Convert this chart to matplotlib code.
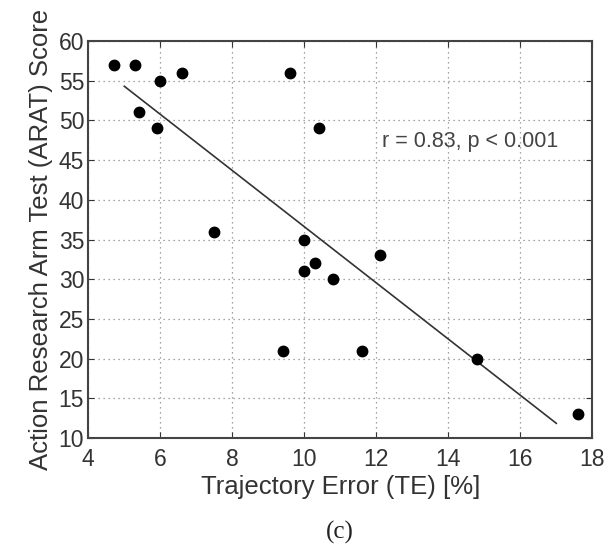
import matplotlib
matplotlib.use("Agg")
import matplotlib.pyplot as plt
import numpy as np

# Trajectory error (%) vs ARAT score per subject
te = [4.7, 5.3, 6.0, 6.6, 9.6, 5.4, 5.9, 10.4, 7.5, 10.0, 10.0, 10.3, 10.8, 9.4, 12.1, 11.6, 14.8, 17.6]
arat = [57, 57, 55, 56, 56, 51, 49, 49, 36, 35, 31, 32, 30, 21, 33, 21, 20, 13]

# Regression line endpoints
fit_x = [5.0, 17.0]
fit_y = [54.3, 11.85]

xticks = [4, 6, 8, 10, 12, 14, 16, 18]
yticks = [10, 15, 20, 25, 30, 35, 40, 45, 50, 55, 60]

plt.rcParams['font.family'] = ['Liberation Sans', 'DejaVu Sans']

fig = plt.figure(figsize=(6.12, 5.46), dpi=100)
ax = fig.add_axes([0.1443, 0.1978, 0.8235, 0.7271])

ax.plot(fit_x, fit_y, color='#333333', lw=1.2, zorder=2)
ax.plot(te, arat, 'o', color='black', ms=7.5, zorder=3)

ax.set_xlim(4, 18)
ax.set_ylim(10, 60)
ax.set_xticks(xticks)
ax.set_yticks(yticks)
ax.grid(True, linestyle=(0, (1, 3)), color='#888888', lw=0.9)
ax.tick_params(direction='in', top=True, right=True, length=4, width=0.8,
               labelsize=16.5, colors='#333333', labelcolor='#333333')
ax.tick_params(axis='x', pad=7)
ax.tick_params(axis='y', pad=3)
for s in ax.spines.values():
    s.set_color('#444444')
    s.set_linewidth(1.5)

ax.set_xlabel('Trajectory Error (TE) [%]', fontsize=18.5, color='#333333', labelpad=3)
ax.set_ylabel('Action Research Arm Test (ARAT) Score', fontsize=18.5, color='#333333', labelpad=4)

ax.text(12.15, 47.3, 'r = 0.83, p < 0.001', fontsize=15.5, color='#444444', va='center', ha='left')

fig.text(0.5556, 0.025, '(c)', fontsize=18, family='Liberation Serif', ha='center', va='center', color='#222222')

fig.savefig('out.png', dpi=100)
